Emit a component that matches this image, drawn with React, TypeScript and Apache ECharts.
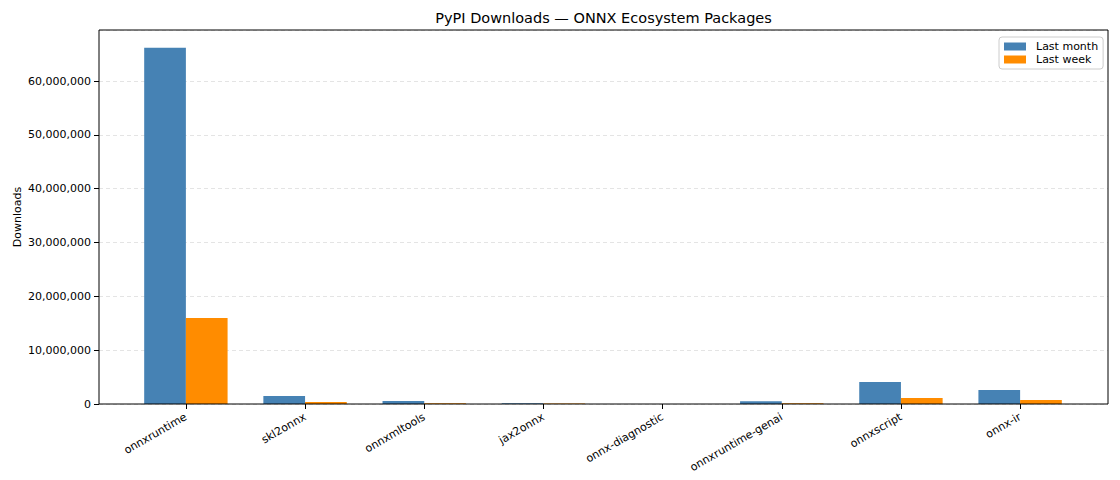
import { useEffect, useRef } from "react";
import * as echarts from "echarts";

const packages = [
  "onnxruntime",
  "skl2onnx",
  "onnxmltools",
  "jax2onnx",
  "onnx-diagnostic",
  "onnxruntime-genai",
  "onnxscript",
  "onnx-ir",
];
const lastMonth = [66200000, 1480000, 560000, 150000, 5000, 500000, 4100000, 2600000];
const lastWeek = [16000000, 370000, 150000, 100000, 1000, 150000, 1100000, 750000];
const yTicks = [0, 10000000, 20000000, 30000000, 40000000, 50000000, 60000000];

const FONT = "DejaVu Sans";
const Y_MAX = 69500000;

export default function App() {
  const chartRef = useRef<HTMLDivElement>(null);

  useEffect(() => {
    if (!chartRef.current) return;
    const chart = echarts.init(chartRef.current, undefined, { renderer: "svg" });

    const option: echarts.EChartsOption = {
      animation: false,
      textStyle: { fontFamily: FONT },
      graphic: [
        {
          type: "text",
          x: 603.5,
          y: 18,
          style: {
            text: "PyPI Downloads — ONNX Ecosystem Packages",
            fontFamily: FONT,
            fontSize: 14.5,
            fill: "#000",
            align: "center",
            verticalAlign: "middle",
          },
        },
        {
          // y axis title
          type: "text",
          x: 17,
          y: 217,
          rotation: Math.PI / 2,
          style: {
            text: "Downloads",
            fontFamily: FONT,
            fontSize: 11,
            fill: "#000",
            align: "center",
            verticalAlign: "middle",
          },
        },
        {
          // axes frame
          type: "rect",
          z: 100,
          silent: true,
          shape: { x: 99, y: 30, width: 1009, height: 374 },
          style: { fill: "none", stroke: "#000", lineWidth: 1 },
        },
      ],
      legend: {
        orient: "vertical",
        left: 999,
        top: 37,
        padding: [4, 5, 4, 5],
        itemWidth: 22,
        itemHeight: 8,
        itemGap: 2,
        icon: "rect",
        borderColor: "#cccccc",
        borderWidth: 1,
        borderRadius: 3,
        backgroundColor: "#fff",
        textStyle: { fontFamily: FONT, fontSize: 11, color: "#000", padding: [0, 0, 0, 5] },
        data: ["Last month", "Last week"],
      },
      grid: [
        { left: 99, top: 30, width: 1009, height: 374 },
        { left: 126.3, top: 30, width: 953.4, height: 374 },
      ],
      xAxis: [
        { gridIndex: 0, type: "value", min: 0, max: 1, show: false },
        {
          gridIndex: 1,
          type: "category",
          data: packages,
          axisLine: { show: false },
          axisTick: { show: true, alignWithLabel: true, length: 5, lineStyle: { color: "#000" } },
          axisLabel: {
            rotate: 30,
            interval: 0,
            margin: 12,
            fontFamily: FONT,
            fontSize: 11,
            color: "#000",
          },
        },
      ],
      yAxis: [
        {
          gridIndex: 0,
          type: "value",
          min: 0,
          max: Y_MAX,
          interval: 10000000,
          axisLine: { show: false },
          axisTick: { show: true, length: 5, lineStyle: { color: "#000" } },
          axisLabel: {
            fontFamily: FONT,
            fontSize: 11,
            color: "#000",
            margin: 8,
            showMaxLabel: false,
            formatter: (v: number) => (yTicks.includes(v) ? v.toLocaleString("en-US") : ""),
          },
          splitLine: {
            show: true,
            lineStyle: { color: "#dddddd", type: [4, 3], width: 0.8 },
          },
        },
        { gridIndex: 1, type: "value", min: 0, max: Y_MAX, show: false },
      ],
      series: [
        {
          name: "Last month",
          type: "bar",
          xAxisIndex: 1,
          yAxisIndex: 1,
          data: lastMonth,
          barWidth: 41.7,
          barGap: "0%",
          itemStyle: { color: "#4682B4" },
        },
        {
          name: "Last week",
          type: "bar",
          xAxisIndex: 1,
          yAxisIndex: 1,
          data: lastWeek,
          barWidth: 41.7,
          barGap: "0%",
          itemStyle: { color: "#FF8C00" },
        },
      ],
    };

    chart.setOption(option);
    return () => chart.dispose();
  }, []);

  return (
    <div
      ref={chartRef}
      style={{ position: "fixed", left: 0, top: 0, width: 1120, height: 480, background: "#fff" }}
    />
  );
}
